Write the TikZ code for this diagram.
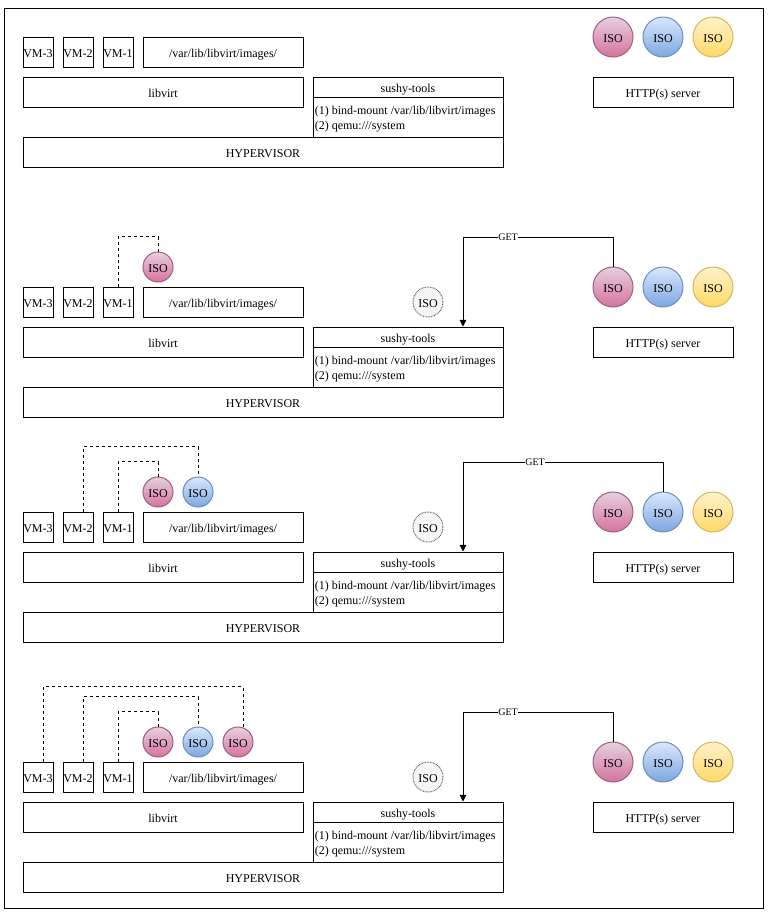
\documentclass[tikz,border=0pt]{standalone}
\usepackage{fontspec}
\setmainfont{Liberation Serif}
\usetikzlibrary{arrows.meta}
\definecolor{pinktop}{RGB}{230,208,222}
\definecolor{pinkbot}{RGB}{213,115,157}
\definecolor{pinkline}{RGB}{153,97,133}
\definecolor{bluetop}{RGB}{218,232,252}
\definecolor{bluebot}{RGB}{126,166,224}
\definecolor{blueline}{RGB}{108,142,191}
\definecolor{yellowtop}{RGB}{255,242,204}
\definecolor{yellowbot}{RGB}{255,217,102}
\definecolor{yellowline}{RGB}{214,182,86}
\definecolor{greyfill}{RGB}{245,245,245}
\definecolor{greyline}{RGB}{102,102,102}
\tikzset{
  box/.style={draw, line width=0.75pt, inner sep=0pt, minimum height=22.5pt,
    text height=7.8pt, text depth=0pt, font=\fontsize{9}{11.25}\selectfont},
  optsbox/.style={draw, line width=0.75pt, inner sep=0pt, minimum width=142.5pt,
    minimum height=30pt},
  optstext/.style={inner xsep=1.5pt, inner ysep=0pt, align=left, yshift=-1.5pt,
    font=\fontsize{9}{11.25}\selectfont},
  iso/.style={circle, draw, line width=0.75pt, inner sep=0pt, minimum size=30pt,
    text height=7.8pt, text depth=0pt, font=\fontsize{9}{11.25}\selectfont},
  isosmall/.style={iso, minimum size=22.5pt},
  pinkiso/.style={top color=pinktop, bottom color=pinkbot, draw=pinkline},
  blueiso/.style={top color=bluetop, bottom color=bluebot, draw=blueline},
  yellowiso/.style={top color=yellowtop, bottom color=yellowbot, draw=yellowline},
  greyiso/.style={fill=greyfill, draw=greyline, dash pattern=on 0.6pt off 0.6pt},
  link/.style={line width=0.75pt, dash pattern=on 2.25pt off 2.25pt},
  get/.style={line width=0.75pt, -{Triangle[width=5pt,length=5pt]}},
  getlabel/.style={fill=white, inner sep=0.5pt, font=\fontsize{7.5}{9}\selectfont}
}
% one row of the stack, #1 = name prefix, #2 = y offset in px
\newcommand{\drawstack}[2]{
  \node[box, minimum width=22.5pt] (#1vm3) at (38,#2+52) {VM-3};
  \node[box, minimum width=22.5pt] (#1vm2) at (78,#2+52) {VM-2};
  \node[box, minimum width=22.5pt] (#1vm1) at (118,#2+52) {VM-1};
  \node[box, minimum width=120pt] (#1img) at (223,#2+52) {/var/lib/libvirt/images/};
  \node[box, minimum width=210pt] (#1libvirt) at (163,#2+92) {libvirt};
  \node[box, minimum width=142.5pt, minimum height=15pt] (#1sushy) at (408,#2+87) {sushy-tools};
  \node[optsbox, label={[optstext, anchor=west]west:{(1) bind-mount /var/lib/libvirt/images\\(2) qemu:///system}}]
    (#1opts) at (408,#2+117) {};
  \node[box, minimum width=360pt] (#1hyp) at (263,#2+152) {HYPERVISOR};
  \node[box, minimum width=105pt] (#1http) at (663,#2+92) {HTTP(s) server};
  \node[iso, pinkiso] (#1isoa) at (613,#2+37) {ISO};
  \node[iso, blueiso] (#1isob) at (663,#2+37) {ISO};
  \node[iso, yellowiso] (#1isoc) at (713,#2+37) {ISO};
}

\begin{document}
\begin{tikzpicture}[x=0.75pt, y=-0.75pt]
\useasboundingbox (0,0) rectangle (769,915);
\draw[line width=0.75pt] (4,8) rectangle (763,908);

% initial state
\drawstack{p1}{0}

% VM-1 gets the first image
\drawstack{p2}{250}
\node[isosmall, greyiso] (p2cache) at (428,302) {ISO};
\node[isosmall, pinkiso] (p2vma) at (158,267) {ISO};
\coordinate (p2turn) at (463,237);
\draw[get] (p2isoa.north) |- node[getlabel, pos=0.85] {GET} (p2turn) -- (p2turn |- p2sushy.north);
\draw[link] (p2vm1.north) -- ++(0,-50) -| (p2vma.north);

% VM-2 gets the second image
\drawstack{p3}{475}
\node[isosmall, greyiso] (p3cache) at (428,527) {ISO};
\node[isosmall, pinkiso] (p3vma) at (158,492) {ISO};
\node[isosmall, blueiso] (p3vmb) at (198,492) {ISO};
\coordinate (p3turn) at (463,462);
\draw[get] (p3isob.north) |- node[getlabel, pos=0.82] {GET} (p3turn) -- (p3turn |- p3sushy.north);
\draw[link] (p3vm1.north) -- ++(0,-50) -| (p3vma.north);
\draw[link] ([xshift=3.75pt]p3vm2.north) -- ++(0,-65) -| (p3vmb.north);

% VM-3 gets the first image again
\drawstack{p4}{725}
\node[isosmall, greyiso] (p4cache) at (428,777) {ISO};
\node[isosmall, pinkiso] (p4vma) at (158,742) {ISO};
\node[isosmall, blueiso] (p4vmb) at (198,742) {ISO};
\node[isosmall, pinkiso] (p4vmc) at (238,742) {ISO};
\coordinate (p4turn) at (463,712);
\draw[get] (p4isoa.north) |- node[getlabel, pos=0.85] {GET} (p4turn) -- (p4turn |- p4sushy.north);
\draw[link] (p4vm1.north) -- ++(0,-50) -| (p4vma.north);
\draw[link] ([xshift=3.75pt]p4vm2.north) -- ++(0,-65) -| (p4vmb.north);
\draw[link] ([xshift=3.75pt]p4vm3.north) -- ++(0,-75) -| ([xshift=3.75pt]p4vmc.north);
\end{tikzpicture}
\end{document}
